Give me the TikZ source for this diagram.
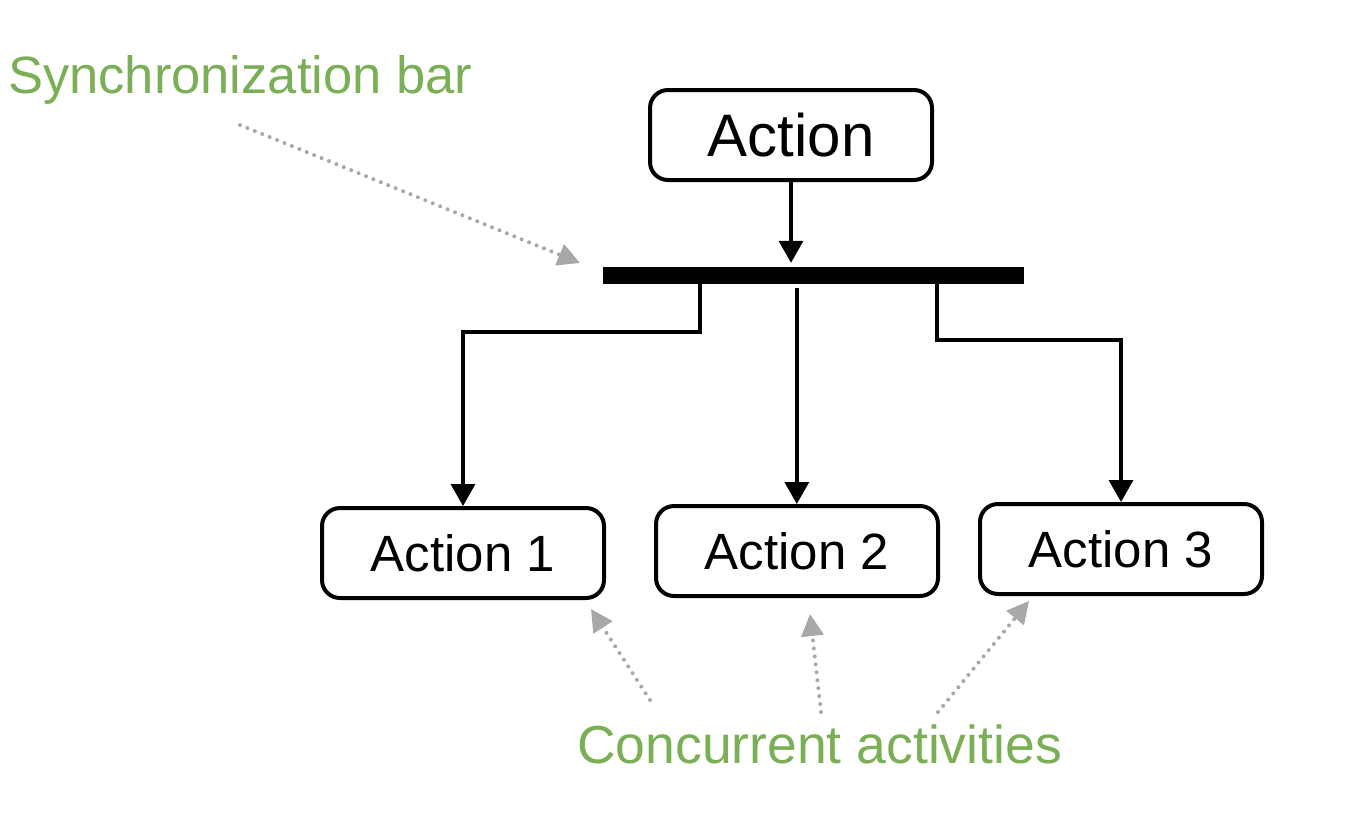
\documentclass[tikz,border=0pt]{standalone}
\usepackage{fontspec}
\setmainfont{Liberation Sans}
\usetikzlibrary{arrows.meta,calc}
\definecolor{lblgreen}{HTML}{7AAF55}
\definecolor{dotgray}{HTML}{A8A8A8}
\begin{document}
\begin{tikzpicture}[x=1pt,y=-1pt,
  actbox/.style={draw,line width=4pt,rounded corners=18pt,minimum width=282pt,minimum height=90pt,inner sep=0pt,font=\fontsize{51}{56}\selectfont},
  flow/.style={line width=3.5pt,-{Triangle[width=24pt,length=22pt]}},
  note/.style={dotgray,line width=4pt,line cap=round,dash pattern=on 0pt off 8pt,-{Triangle[width=22pt,length=22pt]}},
  lbl/.style={text=lblgreen,inner sep=0pt,font=\fontsize{52.5}{58}\selectfont}]
\useasboundingbox (0,0) rectangle (1356,812);
% boxes
\node[actbox,font=\fontsize{60}{66}\selectfont] (top) at (791,135) {Action};
\node[actbox] (a1) at (463,553) {Action 1};
\node[actbox] (a2) at (797,551) {Action 2};
\node[actbox] (a3) at (1121,549) {Action 3};
% synchronization bar
\node[fill=black,draw=none,minimum width=421pt,minimum height=17pt,inner sep=0pt] (bar) at (813.5,275.5) {};
% labels
\node[lbl,anchor=base west] (sync) at (8,93) {Synchronization bar};
\node[lbl,anchor=base west,font=\fontsize{53.5}{58}\selectfont] (conc) at (577,763) {Concurrent activities};
% flow connectors
\draw[flow,shorten >=4pt] (top.south) -- (top.south |- bar.north);
\coordinate (b1) at ($(bar.south west)+(97,0)$);
\coordinate (b2) at ($(bar.south west)+(194,4)$);
\coordinate (b3) at ($(bar.south west)+(334,0)$);
\draw[flow] (b1) -- ++(0,48) -| (a1.north);
\draw[flow] (b2) -- (b2 |- a2.north);
\draw[flow] (b3) -- ++(0,56) -| (a3.north);
% note arrows
\coordinate (s1) at (240,125);
\coordinate (s2) at (580,263);
\draw[note] (s1) -- (s2);
\coordinate (c1s) at (650,700);
\coordinate (c1e) at (591,609);
\coordinate (c2s) at (821,712);
\coordinate (c2e) at (810,614);
\coordinate (c3s) at (938,712);
\coordinate (c3e) at (1029,601);
\draw[note] (c1s) -- (c1e);
\draw[note] (c2s) -- (c2e);
\draw[note] (c3s) -- (c3e);
\end{tikzpicture}
\end{document}
